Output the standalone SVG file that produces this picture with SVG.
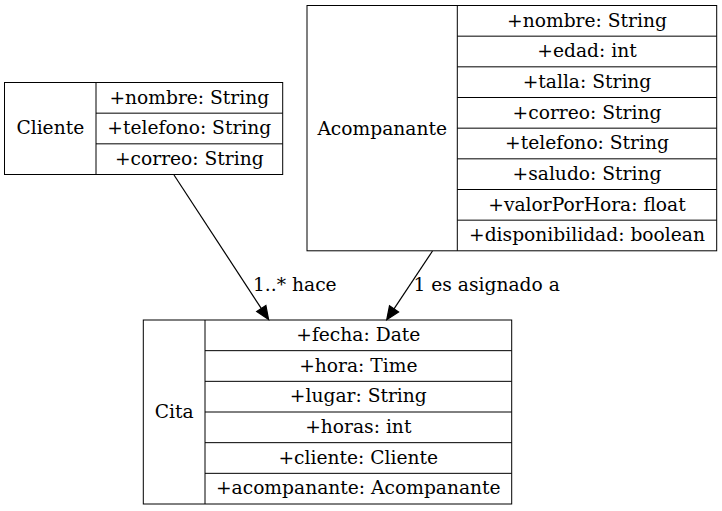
<svg xmlns="http://www.w3.org/2000/svg" width="722" height="511" viewBox="0 0 722 511">
<style>
  .box { fill: #ffffff; stroke: #000000; stroke-width: 1; }
  .ln { stroke: #000000; stroke-width: 1; fill: none; }
  text { font-family: "DejaVu Serif", "Liberation Serif", serif; font-size: 18.67px; fill: #000000; text-anchor: middle; }
  .lbl { text-anchor: start; }
  .edge { stroke: #000000; stroke-width: 1.2; fill: none; }
  .head { fill: #000000; stroke: #000000; stroke-width: 1.2; }
</style>
<rect width="722" height="511" fill="#ffffff"/>

<g id="Cliente">
  <rect class="box" x="4.5" y="82.5" width="278.2" height="92"/>
  <line class="ln" x1="96" y1="82.5" x2="96" y2="174.5"/>
  <line class="ln" x1="96" y1="113.17" x2="282.7" y2="113.17"/>
  <line class="ln" x1="96" y1="143.83" x2="282.7" y2="143.83"/>
  <text x="50.3" y="134">Cliente</text>
  <text x="189.3" y="103.5">+nombre: String</text>
  <text x="189.3" y="134.2">+telefono: String</text>
  <text x="189.3" y="164.8">+correo: String</text>
</g>

<g id="Acompanante">
  <rect class="box" x="307" y="5.5" width="409.7" height="245.3"/>
  <line class="ln" x1="457.3" y1="5.5" x2="457.3" y2="250.8"/>
  <line class="ln" x1="457.3" y1="36.17" x2="716.7" y2="36.17"/>
  <line class="ln" x1="457.3" y1="66.83" x2="716.7" y2="66.83"/>
  <line class="ln" x1="457.3" y1="97.5" x2="716.7" y2="97.5"/>
  <line class="ln" x1="457.3" y1="128.17" x2="716.7" y2="128.17"/>
  <line class="ln" x1="457.3" y1="158.83" x2="716.7" y2="158.83"/>
  <line class="ln" x1="457.3" y1="189.5" x2="716.7" y2="189.5"/>
  <line class="ln" x1="457.3" y1="220.17" x2="716.7" y2="220.17"/>
  <text x="382.2" y="134.5">Acompanante</text>
  <text x="587" y="26.5">+nombre: String</text>
  <text x="587" y="57.2">+edad: int</text>
  <text x="587" y="87.8">+talla: String</text>
  <text x="587" y="118.5">+correo: String</text>
  <text x="587" y="149.2">+telefono: String</text>
  <text x="587" y="179.8">+saludo: String</text>
  <text x="587" y="210.5">+valorPorHora: float</text>
  <text x="587" y="241.2">+disponibilidad: boolean</text>
</g>

<g id="Cita">
  <rect class="box" x="143.3" y="320" width="368.4" height="184"/>
  <line class="ln" x1="205" y1="320" x2="205" y2="504"/>
  <line class="ln" x1="205" y1="350.67" x2="511.7" y2="350.67"/>
  <line class="ln" x1="205" y1="381.33" x2="511.7" y2="381.33"/>
  <line class="ln" x1="205" y1="412" x2="511.7" y2="412"/>
  <line class="ln" x1="205" y1="442.67" x2="511.7" y2="442.67"/>
  <line class="ln" x1="205" y1="473.33" x2="511.7" y2="473.33"/>
  <text x="174.2" y="418.3">Cita</text>
  <text x="358.3" y="341">+fecha: Date</text>
  <text x="358.3" y="371.7">+hora: Time</text>
  <text x="358.3" y="402.3">+lugar: String</text>
  <text x="358.3" y="433">+horas: int</text>
  <text x="358.3" y="463.7">+cliente: Cliente</text>
  <text x="358.3" y="494.3">+acompanante: Acompanante</text>
</g>

<g id="connectors">
  <g id="edge_cliente_cita">
    <line class="edge" x1="174" y1="175" x2="261.4" y2="308.6"/>
    <polygon class="head" points="268.6,319.6 256.7,311.5 265.9,305.5"/>
    <text class="lbl" x="253" y="291">1..* hace</text>
  </g>
  <g id="edge_acompanante_cita">
    <line class="edge" x1="432.5" y1="251" x2="394" y2="308.8"/>
    <polygon class="head" points="386.7,319.8 389.5,305.8 398.6,311.9"/>
    <text class="lbl" x="413.5" y="291">1 es asignado a</text>
  </g>
</g>
</svg>
